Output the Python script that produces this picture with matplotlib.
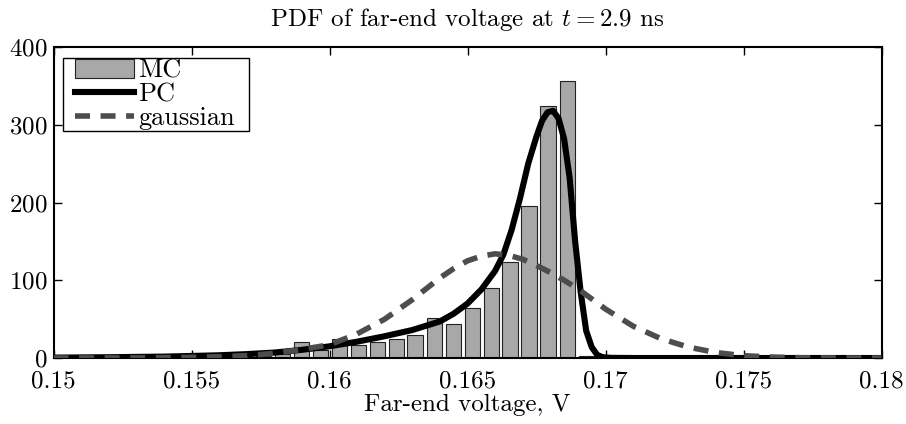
import matplotlib
matplotlib.use("Agg")
import matplotlib.pyplot as plt
from matplotlib.patches import Rectangle

plt.rcParams['font.family'] = ['cmr10', 'DejaVu Serif']
plt.rcParams['mathtext.fontset'] = 'cm'
plt.rcParams['axes.formatter.use_mathtext'] = True

# ---- data ----
mc_centers = [0.15142, 0.15211, 0.15280, 0.15348, 0.15417, 0.15486, 0.15555,
              0.15623, 0.15692, 0.15760, 0.15829, 0.15898, 0.15966, 0.16035,
              0.16104, 0.16173, 0.16242, 0.16310, 0.16379, 0.16448, 0.16517,
              0.16586, 0.16654, 0.16723, 0.16792, 0.16861, 0.16930]
mc_density = [0.5, 0.5, 1, 1, 1, 1.5, 2,
              2, 3, 3, 5, 21, 10, 25,
              17, 21, 25, 30, 52, 44, 64,
              90, 123, 196, 324, 356, 2]
mc_bin_width = 0.000688

pc_x = [0.150, 0.152, 0.154, 0.156, 0.157, 0.158, 0.159, 0.160, 0.161, 0.162,
        0.163, 0.164, 0.1645, 0.165, 0.1655, 0.1660, 0.1663, 0.1666, 0.1669,
        0.1672, 0.1675, 0.1677, 0.1679, 0.1681, 0.1683, 0.1685, 0.1687,
        0.1689, 0.1691, 0.1693, 0.1695, 0.1697, 0.1699, 0.1702, 0.171, 0.180]
pc_y = [0.5, 1, 1.8, 3.5, 5, 7, 10.5, 15, 21, 28,
        36, 47, 57, 70, 88, 112, 133, 165, 205,
        250, 285, 305, 316, 318, 308, 282, 232,
        150, 85, 35, 14, 4, 1, 0.2, 0, 0]

gauss_x = [0.150, 0.153, 0.155, 0.156, 0.157, 0.158, 0.159, 0.160, 0.161, 0.162,
           0.163, 0.164, 0.1645, 0.165, 0.1655, 0.166, 0.1665, 0.167, 0.1675,
           0.168, 0.1685, 0.169, 0.1695, 0.170, 0.171, 0.172, 0.173, 0.174,
           0.175, 0.176, 0.177, 0.178, 0.180]
gauss_y = [0, 0.2, 0.8, 1.6, 3, 6, 11, 17, 31, 50,
           75, 103, 115, 125, 131, 134, 132, 127, 119,
           110, 100, 89, 76, 63, 41, 25, 14, 7,
           3, 1.2, 0.4, 0.1, 0]

x_ticks = [0.15, 0.155, 0.16, 0.165, 0.17, 0.175, 0.18]
x_tick_labels = ['0.15', '0.155', '0.16', '0.165', '0.17', '0.175', '0.18']
y_ticks = [0, 100, 200, 300, 400]

# ---- figure ----
fig = plt.figure(figsize=(9.06, 4.24), dpi=100)
ax = fig.add_axes([53.5 / 906, 66 / 424, 828 / 906, 311 / 424])

h_mc = ax.bar(mc_centers, mc_density, width=0.8 * mc_bin_width, color='#a8a8a8',
              edgecolor='#222222', linewidth=0.8, label='MC', zorder=2)
h_pc, = ax.plot(pc_x, pc_y, color='black', linewidth=4.4, solid_joinstyle='round',
                label='PC', zorder=3)
h_g, = ax.plot(gauss_x, gauss_y, color='#4d4d4d', linewidth=4.0,
               linestyle=(0, (2.7, 1.9)), dash_capstyle='butt',
               label='gaussian', zorder=4)

ax.set_xlim(0.15, 0.18)
ax.set_ylim(0, 400)
ax.set_xticks(x_ticks)
ax.set_xticklabels(x_tick_labels)
ax.set_yticks(y_ticks)
ax.tick_params(direction='in', length=6, width=1.0, labelsize=18,
               top=True, right=True)
ax.tick_params(axis='x', pad=9)
ax.tick_params(axis='y', pad=4)
for s in ax.spines.values():
    s.set_linewidth(1.5)

ax.set_xlabel('Far-end voltage, V', fontsize=18, labelpad=1)
ax.set_title('PDF of far-end voltage at $t = 2.9$ ns', fontsize=18, pad=15)

# legend frame (MATLAB style: wide horizontal margin, tight vertical)
frame = Rectangle((0.0111, 0.7299), 0.2250, 0.2357, transform=ax.transAxes,
                  facecolor='white', edgecolor='black', linewidth=1.0,
                  zorder=4.5)
ax.add_patch(frame)
leg = ax.legend([h_mc, h_pc, h_g], ['MC', 'PC', 'gaussian'],
                loc='upper left', bbox_to_anchor=(0.026, 0.962), fontsize=19,
                frameon=False, borderaxespad=0, borderpad=0.0,
                labelspacing=0.0, handlelength=2.24, handletextpad=0.15)
leg.set_zorder(5)

fig.savefig('out.png', dpi=100)
